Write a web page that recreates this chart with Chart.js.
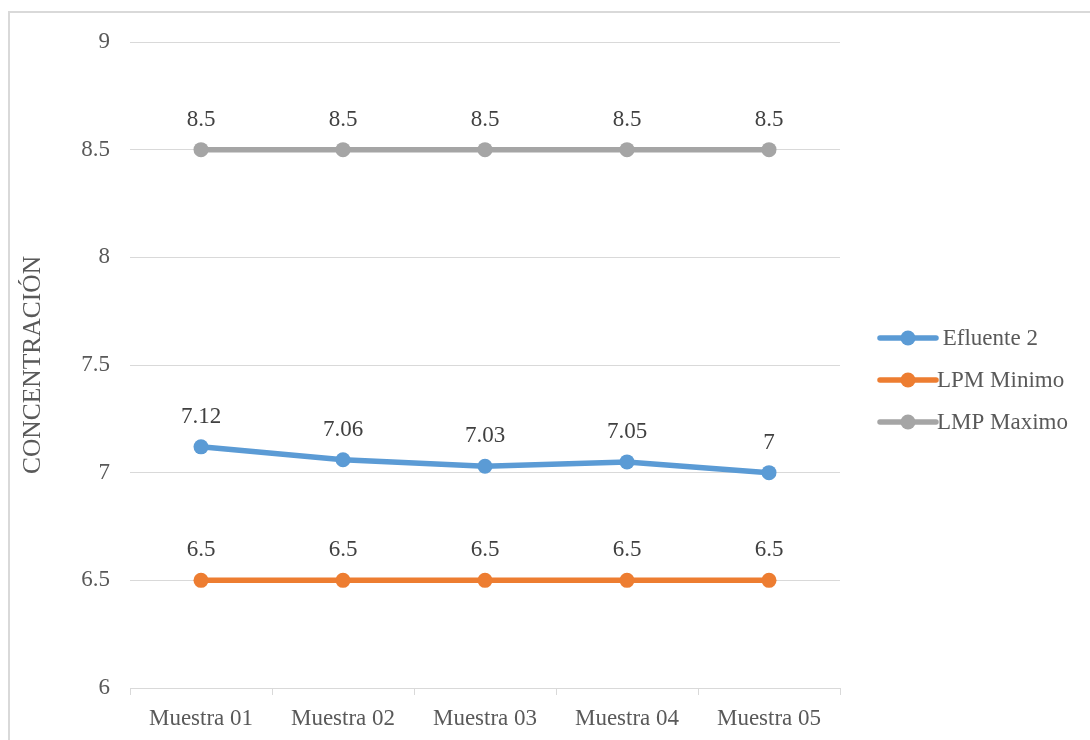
<!DOCTYPE html>
<html>
<head>
<meta charset="utf-8">
<script src="https://cdn.jsdelivr.net/npm/chart.js@4/dist/chart.umd.min.js"></script>
<style>
  html, body { margin: 0; padding: 0; background: #fff; overflow: hidden; }
  #wrap { position: relative; width: 1090px; height: 740px; }
  #frame { position: absolute; left: 8px; top: 11px; width: 1100px; height: 760px;
           border: 2px solid #d9d9d9; box-sizing: border-box; }
  #c { position: absolute; left: 0; top: 0; }
</style>
</head>
<body>
<div id="wrap">
  <div id="frame"></div>
  <canvas id="c" width="1090" height="740"></canvas>
</div>
<script>
// Samples along the x axis
const categories = ['Muestra 01', 'Muestra 02', 'Muestra 03', 'Muestra 04', 'Muestra 05'];

// Measured concentration and the permitted limits
const efluente2 = [7.12, 7.06, 7.03, 7.05, 7];
const lpmMinimo = [6.5, 6.5, 6.5, 6.5, 6.5];
const lmpMaximo = [8.5, 8.5, 8.5, 8.5, 8.5];

// Y axis range and step
const yMin = 6;
const yMax = 9;
const yStep = 0.5;

const seriesNames = [' Efluente 2', 'LPM Minimo', 'LMP Maximo'];
const seriesColors = ['#5B9BD5', '#ED7D31', '#A5A5A5'];

const FONT = 'Liberation Serif';
const TEXT = '#595959';
const LABEL = '#404040';
const GRID = '#d9d9d9';

// Value labels above every point
const valueLabels = {
  id: 'valueLabels',
  afterDatasetsDraw(chart) {
    const ctx = chart.ctx;
    ctx.save();
    ctx.font = '23px "' + FONT + '"';
    ctx.fillStyle = LABEL;
    ctx.textAlign = 'center';
    ctx.textBaseline = 'alphabetic';
    chart.data.datasets.forEach((ds, di) => {
      const meta = chart.getDatasetMeta(di);
      meta.data.forEach((pt, i) => {
        ctx.fillText(String(ds.data[i]), pt.x, pt.y - 24);
      });
    });
    ctx.restore();
  }
};

// Legend on the right: line sample with a marker, then the series name
const sideLegend = {
  id: 'sideLegend',
  afterDraw(chart) {
    const ctx = chart.ctx;
    const x0 = 880, len = 56, y0 = 338, gap = 42;
    ctx.save();
    chart.data.datasets.forEach((ds, i) => {
      const y = y0 + i * gap;
      ctx.strokeStyle = ds.borderColor;
      ctx.lineWidth = 5.5;
      ctx.lineCap = 'round';
      ctx.beginPath();
      ctx.moveTo(x0, y);
      ctx.lineTo(x0 + len, y);
      ctx.stroke();
      ctx.fillStyle = ds.borderColor;
      ctx.beginPath();
      ctx.arc(x0 + len / 2, y, 7.5, 0, Math.PI * 2);
      ctx.fill();
      ctx.font = '23px "' + FONT + '"';
      ctx.fillStyle = TEXT;
      ctx.textAlign = 'left';
      ctx.textBaseline = 'middle';
      ctx.fillText(ds.label, x0 + len + 1, y + 1);
    });
    ctx.restore();
  }
};

const datasets = [efluente2, lpmMinimo, lmpMaximo].map((values, i) => ({
  label: seriesNames[i],
  data: values,
  borderColor: seriesColors[i],
  backgroundColor: seriesColors[i],
  borderWidth: 5.5,
  pointRadius: 7.5,
  pointBorderWidth: 0,
  pointBackgroundColor: seriesColors[i],
  tension: 0,
  fill: false
}));

new Chart(document.getElementById('c'), {
  type: 'line',
  data: { labels: categories, datasets },
  plugins: [valueLabels, sideLegend],
  options: {
    responsive: false,
    animation: false,
    layout: { padding: { top: 42, right: 250, left: 0, bottom: 0 } },
    plugins: { legend: { display: false }, tooltip: { enabled: false } },
    scales: {
      x: {
        offset: true,
        grid: { drawOnChartArea: false, drawTicks: true, tickLength: 7, color: GRID, lineWidth: 1, offset: true },
        border: { display: true, color: GRID, width: 1 },
        ticks: { color: TEXT, font: { family: FONT, size: 23 }, padding: 10, maxRotation: 0, autoSkip: false },
        afterFit(scale) { scale.height = 52; }
      },
      y: {
        min: yMin,
        max: yMax,
        grid: { color: GRID, lineWidth: 1, drawTicks: false },
        border: { display: false },
        ticks: {
          stepSize: yStep,
          color: TEXT,
          font: { family: FONT, size: 23 },
          padding: 20,
          callback: v => String(v)
        },
        title: {
          display: true,
          text: 'CONCENTRACIÓN',
          color: TEXT,
          font: { family: FONT, size: 25.5 },
          padding: { top: 18, bottom: 0 }
        },
        afterFit(scale) { scale.width = 130; }
      }
    }
  }
});
</script>
</body>
</html>
